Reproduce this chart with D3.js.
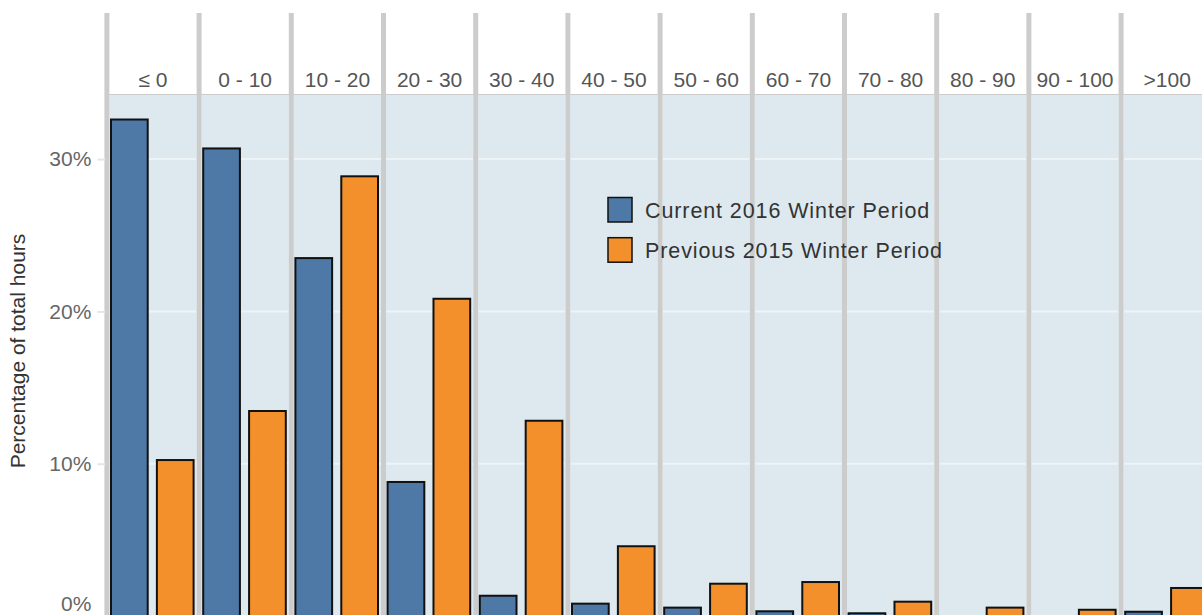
<!DOCTYPE html>
<html>
<head>
<meta charset="utf-8">
<script src="https://cdn.jsdelivr.net/npm/d3@7"></script>
<style>
  body { margin: 0; background: #fff; overflow: hidden; }
  svg { display: block; font-family: "Liberation Sans", Arial, sans-serif; }
</style>
</head>
<body>
<svg id="chart" width="1202" height="615"></svg>
<script>
// temperature bins (facets)
const bins = ['≤ 0', '0 - 10', '10 - 20', '20 - 30', '30 - 40', '40 - 50',
  '50 - 60', '60 - 70', '70 - 80', '80 - 90', '90 - 100', '>100'];
const seriesNames = ['Current 2016 Winter Period', 'Previous 2015 Winter Period'];
// percentage of total hours
const current2016 = [32.6, 30.7, 23.5, 8.8, 1.33, 0.81, 0.55, 0.31, 0.18, 0, 0, 0.28];
const previous2015 = [10.24, 13.46, 28.87, 20.83, 12.82, 4.58, 2.12, 2.23, 0.94, 0.55, 0.41, 1.84];
const yTicks = [0, 10, 20, 30];
const colors = ['#4e78a6', '#f3902c'];

const width = 1202, height = 615;
const sepW = 5;
const stripTop = 13, panelTop = 95;

const svg = d3.select('#chart');

// facet scale (each band = separator + panel)
const fx = d3.scaleBand()
  .domain(bins)
  .range([104.4, 104.4 + 92.2 * bins.length])
  .paddingInner(0);

// series within each panel
const sx = d3.scaleBand()
  .domain(seriesNames)
  .range([sepW + 1.6, sepW + 84.2])
  .paddingInner(0.2);

const y = d3.scaleLinear()
  .domain([0, 30])
  .range([616, 159.1]);

const data = bins.map((b, i) => ({
  bin: b,
  values: [current2016[i], previous2015[i]]
}));

// panel backgrounds
svg.append('g')
  .selectAll('rect')
  .data(bins)
  .join('rect')
  .attr('x', d => fx(d) + sepW)
  .attr('y', panelTop)
  .attr('width', fx.bandwidth() - sepW)
  .attr('height', height - panelTop + 10)
  .attr('fill', '#dde9ef');

// panel top border
svg.append('line')
  .attr('x1', fx(bins[0]) + 2).attr('x2', width)
  .attr('y1', panelTop - 0.5).attr('y2', panelTop - 0.5)
  .attr('stroke', '#cccccc').attr('stroke-width', 1);

// gridlines
svg.append('g')
  .selectAll('line')
  .data(yTicks.filter(t => t > 0))
  .join('line')
  .attr('x1', fx(bins[0]) + sepW).attr('x2', width)
  .attr('y1', d => y(d)).attr('y2', d => y(d))
  .attr('stroke', '#eef3f6').attr('stroke-width', 2);

// separators (panel spacing)
svg.append('g')
  .selectAll('rect')
  .data(bins)
  .join('rect')
  .attr('x', d => fx(d))
  .attr('y', stripTop)
  .attr('width', sepW)
  .attr('height', height - stripTop + 10)
  .attr('fill', '#cccccc');

// strip labels
svg.append('g')
  .selectAll('text')
  .data(bins)
  .join('text')
  .attr('x', d => fx(d) + sepW + (fx.bandwidth() - sepW) / 2)
  .attr('y', 80)
  .attr('dy', '0.35em')
  .attr('text-anchor', 'middle')
  .attr('font-size', 21)
  .attr('fill', '#555555')
  .text(d => d);

// bars
const panel = svg.append('g')
  .selectAll('g')
  .data(data)
  .join('g')
  .attr('transform', d => `translate(${fx(d.bin)},0)`);

panel.selectAll('rect')
  .data(d => d.values.map((v, i) => ({ v, s: seriesNames[i], i })))
  .join('rect')
  .filter(d => d.v > 0)
  .attr('x', d => sx(d.s))
  .attr('y', d => y(d.v))
  .attr('width', sx.bandwidth())
  .attr('height', d => y(0) - y(d.v) + 20)
  .attr('fill', d => colors[d.i])
  .attr('stroke', '#111111')
  .attr('stroke-width', 2);

// y axis
const yAxis = svg.append('g')
  .attr('transform', `translate(${fx(bins[0]) + 1},0)`)
  .call(d3.axisLeft(y).tickValues(yTicks).tickFormat(d => d + '%').tickSize(8).tickPadding(6));
yAxis.select('.domain').remove();
yAxis.selectAll('.tick line').attr('stroke', '#e6e6e6').attr('stroke-width', 2);
yAxis.selectAll('.tick text')
  .attr('font-size', 21)
  .attr('font-family', '"Liberation Sans", Arial, sans-serif')
  .attr('fill', '#666666');
// keep the bottom label inside the picture
yAxis.selectAll('.tick')
  .filter(d => d === 0)
  .select('text')
  .attr('y', -12);

// y axis title
svg.append('text')
  .attr('transform', `translate(18,351) rotate(-90)`)
  .attr('text-anchor', 'middle')
  .attr('dy', '0.35em')
  .attr('font-size', 21)
  .attr('fill', '#333333')
  .text('Percentage of total hours');

// legend
const legend = svg.append('g')
  .attr('transform', 'translate(608,197.5)')
  .selectAll('g')
  .data(seriesNames)
  .join('g')
  .attr('transform', (d, i) => `translate(0,${i * 40.2})`);

legend.append('rect')
  .attr('width', 24)
  .attr('height', 24.5)
  .attr('fill', (d, i) => colors[i])
  .attr('stroke', '#111111')
  .attr('stroke-width', 1.5);

legend.append('text')
  .attr('x', 37)
  .attr('y', 12.5)
  .attr('dy', '0.35em')
  .attr('font-size', 21.5)
  .attr('letter-spacing', '0.9px')
  .attr('fill', '#333333')
  .text(d => d);
</script>
</body>
</html>
